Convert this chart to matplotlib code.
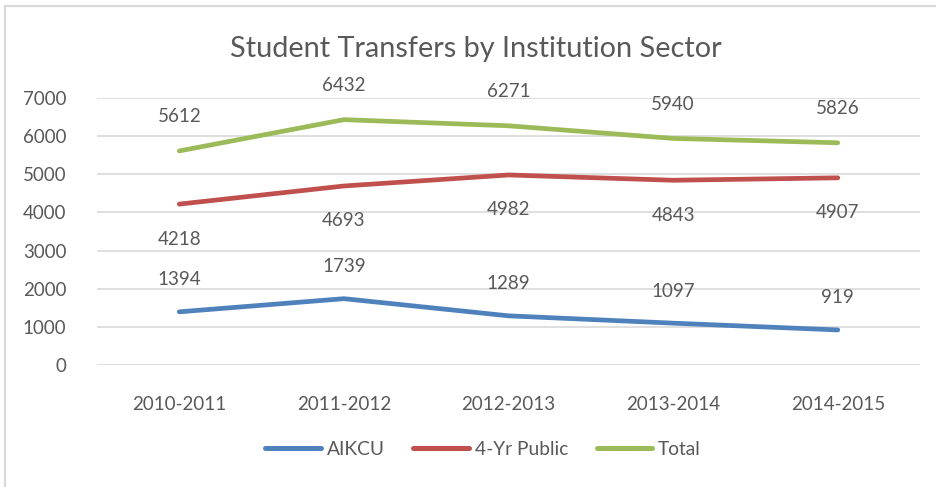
import matplotlib.pyplot as plt
from matplotlib.lines import Line2D

years = ['2010-2011', '2011-2012', '2012-2013', '2013-2014', '2014-2015']
aikcu = [1394, 1739, 1289, 1097, 919]
public4 = [4218, 4693, 4982, 4843, 4907]
total = [5612, 6432, 6271, 5940, 5826]

blue = '#4F81BD'
red = '#C0504D'
green = '#9BBB59'
txt = '#595959'

plt.rcParams['font.family'] = ['Lato', 'DejaVu Sans']

fig = plt.figure(figsize=(9.36, 4.87), dpi=100)
ax = fig.add_axes([0.1036, 0.2505, 0.8794, 0.5483])

x = list(range(len(years)))
ax.plot(x, aikcu, color=blue, lw=3.4, solid_capstyle='round', label='AIKCU', zorder=3)
ax.plot(x, public4, color=red, lw=3.4, solid_capstyle='round', label='4-Yr Public', zorder=3)
ax.plot(x, total, color=green, lw=3.4, solid_capstyle='round', label='Total', zorder=3)

for i in x:
    ax.annotate(str(aikcu[i]), (i, aikcu[i]), xytext=(0, 32), textcoords='offset pixels',
                ha='center', va='center', fontsize=13.5, color=txt)
    ax.annotate(str(public4[i]), (i, public4[i]), xytext=(0, -35), textcoords='offset pixels',
                ha='center', va='center', fontsize=13.5, color=txt)
    ax.annotate(str(total[i]), (i, total[i]), xytext=(0, 34), textcoords='offset pixels',
                ha='center', va='center', fontsize=13.5, color=txt)

ax.set_xlim(-0.5, len(years) - 0.5)
ax.set_ylim(0, 7000)
ax.set_yticks(range(0, 7001, 1000))
ax.set_xticks(x)
ax.set_xticklabels(years)
ax.tick_params(axis='both', length=0, labelsize=13.5, labelcolor=txt)
ax.tick_params(axis='y', pad=22)
ax.tick_params(axis='x', pad=22)
ax.grid(axis='y', color='#D9D9D9', lw=1.2)
ax.set_axisbelow(True)
for s in ax.spines.values():
    s.set_visible(False)

fig.text(0.508, 0.9, 'Student Transfers by Institution Sector', ha='center', va='center',
         fontsize=20.8, color=txt)

handles = [Line2D([], [], color=c, lw=3.6, solid_capstyle='round') for c in (blue, red, green)]
fig.legend(handles, ['AIKCU', '4-Yr Public', 'Total'], loc='center', bbox_to_anchor=(0.516, 0.078),
           ncol=3, frameon=False, fontsize=13.8, labelcolor=txt, handlelength=2.9,
           handletextpad=0.3, columnspacing=1.5)

# outer chart frame (left and top edges visible)
fig.add_artist(Line2D([0.0055, 0.0055], [0, 0.988], color='#D9D9D9', lw=1.5, transform=fig.transFigure))
fig.add_artist(Line2D([0.0055, 1], [0.988, 0.988], color='#D9D9D9', lw=1.5, transform=fig.transFigure))

fig.savefig('out.png', dpi=100)
